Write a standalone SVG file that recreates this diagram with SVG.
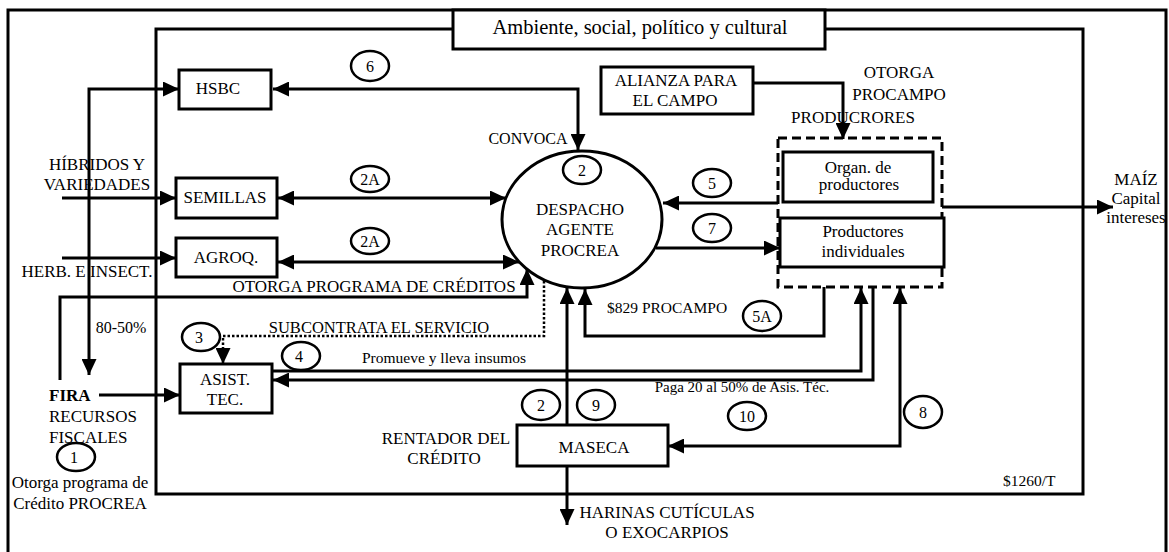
<svg xmlns="http://www.w3.org/2000/svg" width="1169" height="552" viewBox="0 0 1169 552">
<style>
text{font-family:"Liberation Serif","Times New Roman",serif;fill:#000;font-size:17px}
.m{text-anchor:middle}
.box{fill:#fff;stroke:#000;stroke-width:3}
.frame{fill:none;stroke:#000;stroke-width:3}
.c{fill:none;stroke:#000;stroke-width:2.5}
.n{font-size:16px;text-anchor:middle}
.ln{fill:none;stroke:#000;stroke-width:3}
.both{marker-start:url(#ah);marker-end:url(#ah)}
.end{marker-end:url(#ah)}
.dot{stroke-dasharray:2.5 2;stroke-width:2.5}
</style>
<defs>
<marker id="ah" markerUnits="userSpaceOnUse" markerWidth="16" markerHeight="15" refX="16" refY="7.5" orient="auto-start-reverse">
<path d="M0,0 L16,7.5 L0,15 z" fill="#000"/>
</marker>
</defs>
<rect width="1169" height="552" fill="#fff"/>
<g id="outer-frame"><rect class="frame" x="8" y="10" width="1158" height="560"/></g>
<g id="inner-frame"><rect class="frame" x="156" y="29" width="927" height="465"/></g>
<g id="title"><rect class="box" x="453" y="10" width="372" height="39"/><text class="m" x="640" y="34" style="font-size:20.5px">Ambiente, social, político y cultural</text></g>

<g id="connectors">
<path class="ln both" d="M273,89 H578 V150"/>
<path class="ln both" d="M89,375 V89 H179"/>
<path class="ln end" d="M62,198 H176"/>
<path class="ln both" d="M278,198 H506"/>
<path class="ln end" d="M62,258 H176"/>
<path class="ln both" d="M278,262 H519"/>
<path class="ln end" d="M60,380 V297 H527 V269"/>
<path class="ln end" d="M99,395 H180"/>
<path class="ln end dot" d="M544,281 V336 H223 V364"/>
<path class="ln end" d="M272,371 H861 V288"/>
<path class="ln end" d="M873,287 V380 H273"/>
<path class="ln end" d="M567,425 V288"/>
<path class="ln end" d="M824,287 V336 H585 V289"/>
<path class="ln end" d="M567,466 V525"/>
<path class="ln both" d="M900,288 V446 H668"/>
<path class="ln end" d="M753,83 H843 V139"/>
<path class="ln end" d="M778,203 H663"/>
<path class="ln end" d="M656,248 H780"/>
<path class="ln end" d="M942,207 H1113"/>
</g>

<g id="hsbc"><rect class="box" x="179" y="70" width="92" height="39"/><text class="m" x="218" y="94">HSBC</text></g>
<g id="semillas"><rect class="box" x="176" y="178" width="101" height="40"/><text class="m" x="225" y="203">SEMILLAS</text></g>
<g id="agroq"><rect class="box" x="176" y="238" width="101" height="39"/><text class="m" x="226" y="263">AGROQ.</text></g>
<g id="asist"><rect class="box" x="180" y="364" width="92" height="49"/><text class="m" x="225" y="385">ASIST.</text><text class="m" x="225" y="405">TEC.</text></g>
<g id="maseca"><rect class="box" x="517" y="425" width="151" height="41"/><text class="m" x="594" y="453">MASECA</text></g>
<g id="alianza"><rect class="box" x="601" y="67" width="152" height="47"/><text class="m" x="676" y="86">ALIANZA PARA</text><text class="m" x="675" y="106">EL CAMPO</text></g>
<g id="productores"><rect x="778" y="138" width="164" height="149" fill="none" stroke="#000" stroke-width="3" stroke-dasharray="9 5"/>
<text class="m" x="899" y="78">OTORGA</text><text class="m" x="899" y="100">PROCAMPO</text><text class="m" x="853" y="123">PRODUCRORES</text></g>
<g id="organ"><rect class="box" x="783" y="152" width="150" height="50"/><text class="m" x="858" y="173">Organ. de</text><text class="m" x="859" y="190">productores</text></g>
<g id="individuales"><rect class="box" x="780" y="218" width="164" height="49"/><text class="m" x="863" y="237">Productores</text><text class="m" x="863" y="257">individuales</text></g>
<g id="despacho"><ellipse cx="582" cy="219.5" rx="80" ry="68.5" fill="none" stroke="#000" stroke-width="3"/>
<text class="m" x="580" y="215">DESPACHO</text><text class="m" x="580" y="235">AGENTE</text><text class="m" x="580" y="256">PROCREA</text></g>

<g id="labels">
<text x="528" y="144" class="m" style="font-size:16px">CONVOCA</text>
<text class="m" x="97" y="170">HÍBRIDOS Y</text>
<text class="m" x="97" y="190">VARIEDADES</text>
<text class="m" x="87" y="277">HERB. E INSECT.</text>
<text class="m" x="374" y="292">OTORGA PROGRAMA DE CRÉDITOS</text>
<text class="m" x="121" y="333" style="font-size:16px">80-50%</text>
<text class="m" x="379" y="333" style="font-size:16.5px">SUBCONTRATA EL SERVICIO</text>
<text class="m" x="444" y="363" style="font-size:15.5px">Promueve y lleva insumos</text>
<text x="49" y="401" style="font-weight:bold">FIRA</text>
<text x="49" y="422">RECURSOS</text>
<text x="49" y="443">FISCALES</text>
<text class="m" x="80" y="488">Otorga programa de</text>
<text class="m" x="80" y="509">Crédito PROCREA</text>
<text class="m" x="446" y="444">RENTADOR DEL</text>
<text class="m" x="444" y="464">CRÉDITO</text>
<text class="m" x="667" y="518">HARINAS CUTÍCULAS</text>
<text class="m" x="667" y="538">O EXOCARPIOS</text>
<text class="m" x="742" y="392" style="font-size:15px">Paga 20 al 50% de Asis. Téc.</text>
<text x="607" y="313" style="font-size:15.5px">$829 PROCAMPO</text>
<text x="1003" y="486" style="font-size:15.5px">$1260/T</text>
<text class="m" x="1136" y="185">MAÍZ</text>
<text class="m" x="1136" y="204">Capital</text>
<text class="m" x="1136" y="223">intereses</text>
</g>

<g id="step-6"><ellipse class="c" cx="370" cy="66" rx="19" ry="15"/><text class="n" x="370" y="72">6</text></g>
<g id="step-2a-1"><ellipse class="c" cx="370" cy="179" rx="19" ry="13"/><text class="n" x="370" y="185">2A</text></g>
<g id="step-2a-2"><ellipse class="c" cx="370" cy="241" rx="19" ry="13"/><text class="n" x="370" y="247">2A</text></g>
<g id="step-2"><ellipse class="c" cx="582" cy="170" rx="19" ry="14"/><text class="n" x="582" y="176">2</text></g>
<g id="step-5"><ellipse class="c" cx="712" cy="183" rx="19" ry="14"/><text class="n" x="712" y="189">5</text></g>
<g id="step-7"><ellipse class="c" cx="712" cy="228" rx="19" ry="14"/><text class="n" x="712" y="234">7</text></g>
<g id="step-5a"><ellipse class="c" cx="762" cy="316" rx="19" ry="15"/><text class="n" x="762" y="322">5A</text></g>
<g id="step-3"><ellipse class="c" cx="201" cy="337" rx="19" ry="14"/><text class="n" x="199" y="343">3</text></g>
<g id="step-4"><ellipse class="c" cx="301" cy="356" rx="19" ry="14"/><text class="n" x="299" y="362">4</text></g>
<g id="step-1"><ellipse class="c" cx="76" cy="457" rx="19" ry="14"/><text class="n" x="74" y="463">1</text></g>
<g id="step-2b"><ellipse class="c" cx="541" cy="405" rx="19" ry="15"/><text class="n" x="541" y="411">2</text></g>
<g id="step-9"><ellipse class="c" cx="596" cy="405" rx="19" ry="15"/><text class="n" x="596" y="411">9</text></g>
<g id="step-10"><ellipse class="c" cx="747" cy="416" rx="19" ry="14"/><text class="n" x="747" y="422">10</text></g>
<g id="step-8"><ellipse class="c" cx="923" cy="412" rx="19" ry="16"/><text class="n" x="923" y="418">8</text></g>
</svg>
